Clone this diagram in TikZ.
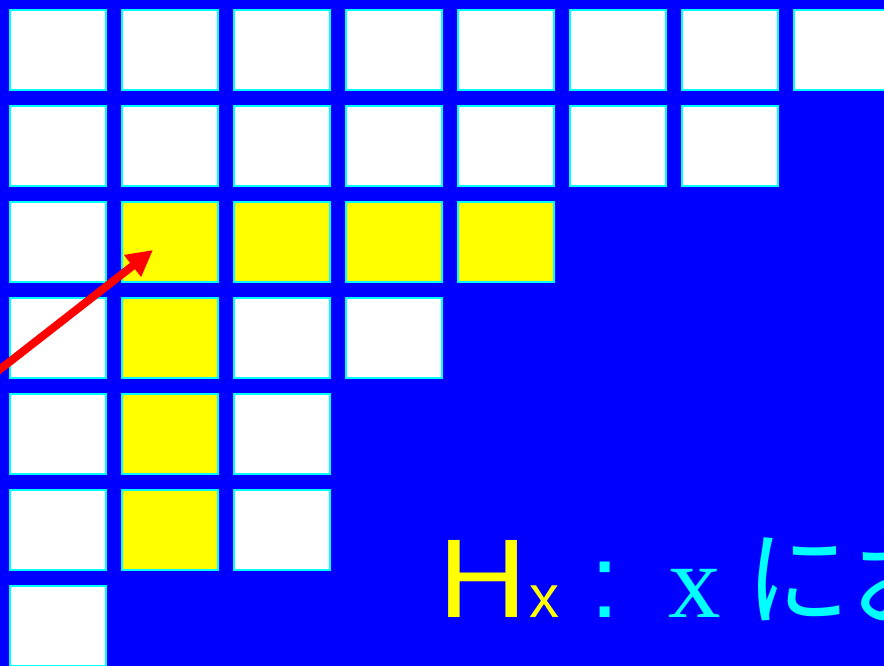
\documentclass[tikz,border=0pt]{standalone}
\usepackage{fontspec}
\setmainfont{Liberation Sans}
\newfontfamily\cjkfont{Noto Sans CJK JP}
\newfontfamily\seriffont{Liberation Serif}
\usetikzlibrary{arrows.meta}
\definecolor{bgblue}{HTML}{0000FF}
\definecolor{cellcyan}{HTML}{00FFFF}
\definecolor{cellyellow}{HTML}{FFFF00}
\definecolor{arrowred}{HTML}{FF0000}
\tikzset{
  cell/.style={draw=cellcyan, line width=2pt, fill=white, minimum width=96pt, minimum height=80pt, inner sep=0pt},
  hicell/.style={cell, fill=cellyellow},
  redarrow/.style={draw=arrowred, line width=8pt, -{Triangle[length=26pt,width=26pt]}},
  lbl/.style={inner sep=0pt, anchor=base west}
}
\begin{document}
\begin{tikzpicture}[x=1pt,y=-1pt]
\useasboundingbox (0,0) rectangle (884,666);
\clip (0,0) rectangle (884,666);
\fill[bgblue] (0,0) rectangle (884,666);
% grid
\foreach \r/\n in {0/8,1/7,2/5,3/4,4/3,5/3,6/1}{
  \foreach \c in {1,...,\n}{
    \pgfmathtruncatemacro{\cc}{\c-1}
    \node[cell] (b-\r-\cc) at ({58+112*\cc},{50+96*\r}) {};
  }
}
% highlighted cells
\foreach \r/\c in {2/1,2/2,2/3,2/4,3/1,4/1,5/1}{
  \node[hicell] (h-\r-\c) at ({58+112*\c},{50+96*\r}) {};
}
% arrow
\coordinate (as) at (-6,374);
\coordinate (ae) at (153,250);
\draw[redarrow] (as) -- (ae);
% label
\node[lbl, text=cellyellow, font=\fontsize{112}{112}\selectfont] (tH) at (438,617) {\scalebox{1.1}[1]{H}};
\node[lbl, text=cellyellow, font=\fontsize{60}{60}\selectfont] (tx) at (529,617) {x};
\node[lbl, text=cellcyan, font=\fontsize{105}{105}\selectfont] (tc) at (590,617) {:};
\node[lbl, text=cellcyan, font=\seriffont\fontsize{105}{105}\selectfont] (tx2) at (668,617) {x};
\node[lbl, text=cellcyan, font=\cjkfont\fontsize{105}{105}\selectfont] (tj) at (745,617) {にお};
\end{tikzpicture}
\end{document}
